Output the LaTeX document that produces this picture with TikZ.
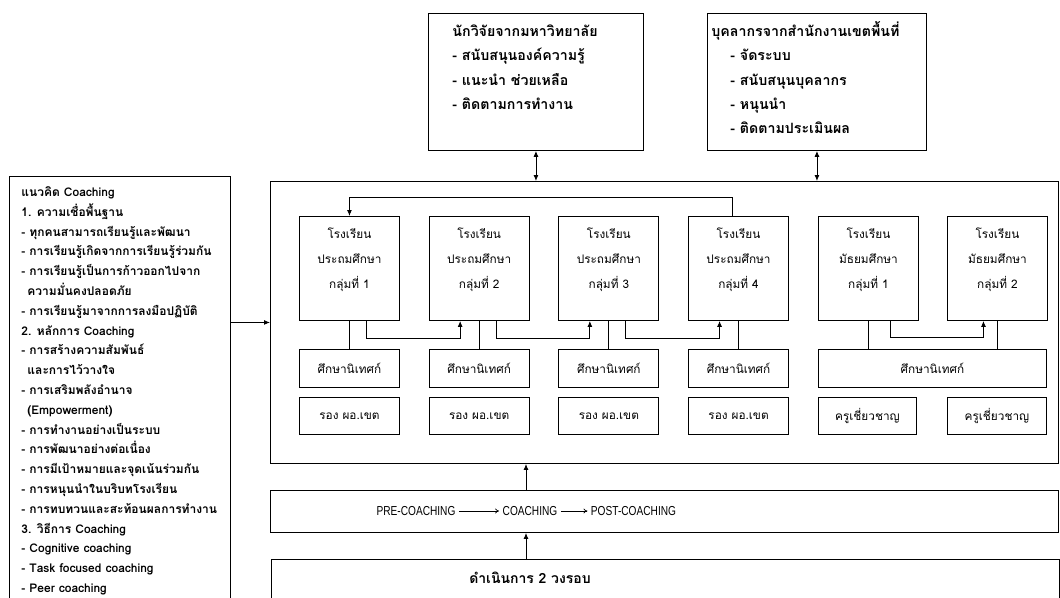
\documentclass[tikz,border=0pt]{standalone}
\usepackage{fontspec}
\setmainfont[Script=Thai]{Loma}
\newfontfamily\narrowfont[FakeStretch=0.78]{Liberation Sans}
\usetikzlibrary{arrows.meta, positioning, calc}

\tikzset{
  box/.style={draw, line width=0.9pt, inner sep=0pt, anchor=north west},
  arr/.style={-{Latex[length=6pt,width=5pt]}, line width=0.9pt},
  twoway/.style={{Latex[length=6pt,width=5pt]}-{Latex[length=6pt,width=5pt]}, line width=0.9pt},
  flowarr/.style={-{To[length=4pt,width=5pt]}, line width=0.7pt},
}
\newcommand{\schooltext}[1]{\parbox[c][104pt][t]{100pt}{\centering\rule{0pt}{22pt}#1}}
\newcommand{\schoolfont}{\fontsize{11.8}{25}\selectfont}

\begin{document}
\begin{tikzpicture}[x=1pt, y=-1pt]
		\useasboundingbox (0,0) rectangle (1060,597);
		\clip (0,0) rectangle (1060,597);
		
		%// concept box, cut at the bottom
		\node[box, font=\bfseries\fontsize{12}{19.8}\selectfont] (concept) at (9,176)
		{\parbox[c][440pt][t]{221pt}{\raggedright\leftskip=12pt\rule{0pt}{20pt}แนวคิด Coaching\\
		1. ความเชื่อพื้นฐาน\\
		- ทุกคนสามารถเรียนรู้และพัฒนา\\
		- การเรียนรู้เกิดจากการเรียนรู้ร่วมกัน\\
		- การเรียนรู้เป็นการก้าวออกไปจาก\\
		\hspace*{6pt}ความมั่นคงปลอดภัย\\
		- การเรียนรู้มาจากการลงมือปฏิบัติ\\
		2. หลักการ Coaching\\
		- การสร้างความสัมพันธ์\\
		\hspace*{6pt}และการไว้วางใจ\\
		- การเสริมพลังอำนาจ\\
		\hspace*{6pt}(Empowerment)\\
		- การทำงานอย่างเป็นระบบ\\
		- การพัฒนาอย่างต่อเนื่อง\\
		- การมีเป้าหมายและจุดเน้นร่วมกัน\\
		- การหนุนนำในบริบทโรงเรียน\\
		- การทบทวนและสะท้อนผลการทำงาน\\
		3. วิธีการ Coaching\\
		- Cognitive coaching\\
		- Task focused coaching\\
		- Peer coaching}};
		
		%// support boxes on top
		\node[box, font=\bfseries\fontsize{14.2}{24.3}\selectfont] (uni) at (428,13)
		{\parbox[c][137pt][t]{215pt}{\raggedright\leftskip=24pt\rule{0pt}{23pt}นักวิจัยจากมหาวิทยาลัย\\
		- สนับสนุนองค์ความรู้\\
		- แนะนำ ช่วยเหลือ\\
		- ติดตามการทำงาน}};
		\node[box, font=\bfseries\fontsize{14.2}{24.3}\selectfont] (area) at (707,13)
		{\parbox[c][137pt][t]{219pt}{\raggedright\leftskip=4pt\rule{0pt}{23pt}บุคลากรจากสำนักงานเขตพื้นที่\\
		\hspace*{19pt}- จัดระบบ\\
		\hspace*{19pt}- สนับสนุนบุคลากร\\
		\hspace*{19pt}- หนุนนำ\\
		\hspace*{19pt}- ติดตามประเมินผล}};
		
		\node[box, minimum width=788pt, minimum height=282pt] (main) at (270,181) {};
		
		%// primary school groups
		\foreach \i in {1,2,3,4}
		{
		\node[box, font=\schoolfont] (pe\i) at ({299+129.7*(\i-1)},216) {\schooltext{โรงเรียน\\ประถมศึกษา\\กลุ่มที่ \i}};
		\node[box, font=\schoolfont, minimum width=100pt, minimum height=38pt] (pesup\i) at ({299+129.7*(\i-1)},349) {ศึกษานิเทศก์};
		\node[box, font=\schoolfont, minimum width=100pt, minimum height=37pt] (pedep\i) at ({299+129.7*(\i-1)},397) {รอง ผอ.เขต};
		\draw[line width=0.9pt] (pe\i.south) -- (pesup\i.north);
		}
		\foreach \i/\j in {1/2, 2/3, 3/4}
		\draw[arr] ([xshift=17pt]pe\i.south) -- ++(0,18) -| ([xshift=-19pt]pe\j.south);
		\draw[arr] ([xshift=-6pt]pe4.north) -- ++(0,-19) -| (pe1.north);
		
		%// secondary school groups
		\node[box, font=\schoolfont] (ms1) at (818,216) {\schooltext{โรงเรียน\\มัธยมศึกษา\\กลุ่มที่ 1}};
		\node[box, font=\schoolfont] (ms2) at (947,216) {\schooltext{โรงเรียน\\มัธยมศึกษา\\กลุ่มที่ 2}};
		\node[box, font=\schoolfont, minimum width=228pt, minimum height=38pt] (mssup) at (818,349) {ศึกษานิเทศก์};
		\node[box, font=\schoolfont, minimum width=98pt, minimum height=37pt] (msexp1) at (818,397) {ครูเชี่ยวชาญ};
		\node[box, font=\schoolfont, minimum width=99pt, minimum height=37pt] (msexp2) at (947,397) {ครูเชี่ยวชาญ};
		\draw[line width=0.9pt] (ms1.south) -- (ms1.south |- mssup.north);
		\draw[line width=0.9pt] (ms2.south) -- (ms2.south |- mssup.north);
		\draw[arr] ([xshift=22pt]ms1.south) -- ++(0,17) -| ([xshift=-14pt]ms2.south);
		
		%// coaching process and rounds
		\node[box, minimum width=788pt, minimum height=42pt] (process) at (270,490) {};
		\node[font=\narrowfont\fontsize{13}{15}\selectfont] (pre) at (416,511) {PRE-COACHING};
		\node[font=\narrowfont\fontsize{13}{15}\selectfont] (coach) at (530,511) {COACHING};
		\node[font=\narrowfont\fontsize{13}{15}\selectfont] (post) at (633.5,511) {POST-COACHING};
		\draw[flowarr] (pre) -- (coach);
		\draw[flowarr] (coach) -- (post);
		
		\node[box, minimum width=788pt, minimum height=60pt] (rounds) at (271,559) {};
		\node[font=\bfseries\fontsize{14}{16}\selectfont] (roundtext) at (530,578) {ดำเนินการ 2 วงรอบ};
		
		%// links between the blocks
		\draw[twoway] (uni.south) -- (uni.south |- main.north);
		\draw[twoway] (area.south) -- (area.south |- main.north);
		\draw[arr] (concept.east |- main.west) -- (main.west);
		\draw[arr] ([xshift=-4pt]coach.north |- process.north) -- ([xshift=-4pt]coach.north |- main.south);
		\draw[arr] ([xshift=-4pt]coach.north |- rounds.north) -- ([xshift=-4pt]coach.north |- process.south);
		\end{tikzpicture}
\end{document}
